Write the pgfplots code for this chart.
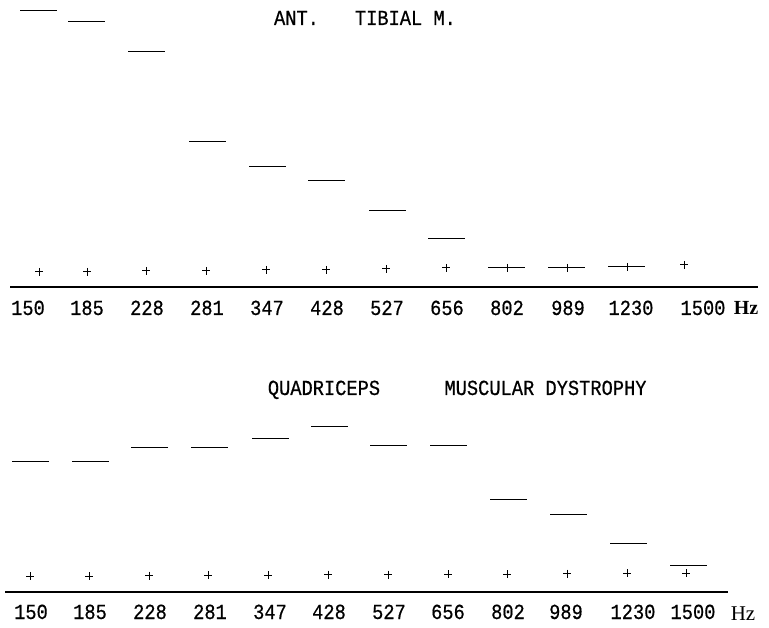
\documentclass[border=0pt]{standalone}
\usepackage{pgfplots}
\usepackage{pgfplotstable}
\pgfplotsset{compat=1.18}
\usepackage{fontspec}
\setmainfont{Liberation Mono}[FakeStretch=0.87, FakeBold=0.5]
\newfontfamily\hzfont{Liberation Serif}
\newcommand\tw{\fontsize{21.5}{24}\selectfont}

% top panel (ANT. TIBIAL M.): x = category position, y = height above baseline
\pgfplotstableread{
x h
38 276
86 265
146 235
207 145
267 120
326 106
387 76
446 48
506 19
566 19
626 20
}\topdash
\pgfplotstableread{
x h
39 15
87 15
146 16
206 16
266 17
326 17
386 18
446 19
507 19
567 19
627 20
684 22
}\topplus
% bottom panel (QUADRICEPS MUSCULAR DYSTROPHY)
\pgfplotstableread{
x h
30.5 130
90 130
149.5 144
209 144
270 153
329 165
388 146
448 146
508 92
568 77
628 48
688 27
}\botdash
\pgfplotstableread{
x h
30 16
89 16
149 16.5
208 17
268 17
328 17.5
388 17.5
448 18
507 18
567 18.5
627 19
686 19
}\botplus

\begin{document}
\begin{tikzpicture}
\path[use as bounding box] (0pt,0pt) rectangle (769pt,627pt);
\pgfplotsset{
  panel/.style={
    x=1pt, y=1pt, enlargelimits=false, clip=false,
    axis x line=bottom, axis y line=none,
    x axis line style={-, line width=1.7pt},
    xtick style={draw=none}, major tick length=0pt,
    /pgf/number format/assume math mode=true,
    xticklabel style={anchor=base, font=\tw},
  },
  dashstyle/.style={only marks, mark=-, mark size=18.5pt, black, mark options={line width=1pt}},
  plusstyle/.style={only marks, mark=+, mark size=4pt, black, mark options={line width=1pt}},
}
% ---------- top panel ----------
\begin{axis}[panel,
  at={(10pt,340pt)}, anchor=south west,
  xmin=10, xmax=758, ymin=0, ymax=287,
  xtick={28,87,147,207,267,327,387,447,507,568,631,703,746},
  xticklabels={150,185,228,281,347,428,527,656,802,989,1230,1500,{\hzfont\fontsize{20}{22}\selectfont\bfseries Hz}},
  xticklabel style={yshift=-28pt},
]
\addplot[dashstyle] table[x=x,y=h] {\topdash};
\addplot[plusstyle] table[x=x,y=h] {\topplus};
\node[anchor=base, font=\tw] at (axis cs:365,262) {ANT.\hspace*{36pt}TIBIAL M.};
\end{axis}
% ---------- bottom panel ----------
\begin{axis}[panel,
  at={(5pt,35pt)}, anchor=south west,
  xmin=5, xmax=728, ymin=0, ymax=260,
  xtick={31,90,150,210,270,329,389,448,508,566,633,693},
  xticklabels={150,185,228,281,347,428,527,656,802,989,1230,1500},
  xticklabel style={yshift=-27pt},
]
\addplot[dashstyle] table[x=x,y=h] {\botdash};
\addplot[plusstyle] table[x=x,y=h] {\botplus};
\node[anchor=base, font=\tw] at (axis cs:324,197) {QUADRICEPS};
\node[anchor=base, font=\tw] at (axis cs:545.5,197) {MUSCULAR DYSTROPHY};
\node[anchor=base, inner sep=0pt, font=\hzfont\fontsize{21}{23}\selectfont] at (axis cs:743,-28) {Hz};
\end{axis}
\end{tikzpicture}
\end{document}
